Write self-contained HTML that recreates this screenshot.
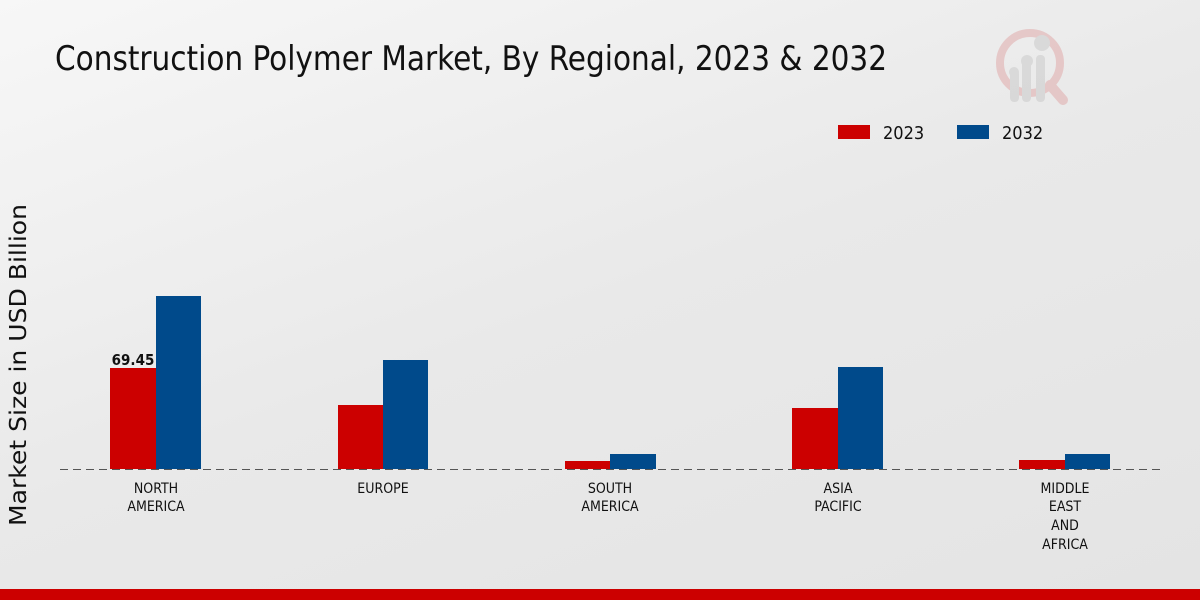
<!DOCTYPE html>
<html><head><meta charset="utf-8"><style>
html,body{margin:0;padding:0;}
body{width:1200px;height:600px;overflow:hidden;background:linear-gradient(160deg,#f7f7f7 0%,#e9e9e9 50%,#e4e4e4 100%);font-family:"DejaVu Sans Condensed","Liberation Sans",sans-serif;}
</style></head><body>
<svg width="1200" height="600" xmlns="http://www.w3.org/2000/svg" style="position:absolute;left:0;top:0">
<text x="55" y="70" font-size="34" fill="#111" textLength="832" lengthAdjust="spacingAndGlyphs">Construction Polymer Market, By Regional, 2023 &amp; 2032</text>
<g opacity="0.5">
<circle cx="1030" cy="63" r="30" fill="none" stroke="#e0a5a5" stroke-width="8"/>
<line x1="1050" y1="85" x2="1063" y2="100" stroke="#e0a5a5" stroke-width="10" stroke-linecap="round"/>
<rect x="1010" y="70" width="9" height="32" rx="4" fill="#c8c8c8"/>
<rect x="1022" y="60" width="9" height="42" rx="4" fill="#c8c8c8"/>
<rect x="1036" y="55" width="9" height="47" rx="4" fill="#c8c8c8"/>
<circle cx="1014" cy="72" r="5" fill="#c8c8c8"/><circle cx="1027" cy="61" r="6" fill="#c8c8c8"/><circle cx="1042" cy="43" r="8" fill="#c8c8c8"/>
</g>
<rect x="838" y="125" width="32" height="14" fill="#cc0000"/>
<text x="883" y="139" font-size="18" fill="#111">2023</text>
<rect x="957" y="125" width="32" height="14" fill="#004a8b"/>
<text x="1002" y="139" font-size="18" fill="#111">2032</text>
<text transform="translate(26,365) rotate(-90)" font-size="23" fill="#111" text-anchor="middle" textLength="322" lengthAdjust="spacingAndGlyphs" font-family="DejaVu Sans, sans-serif">Market Size in USD Billion</text>
<g>
<rect x="110" y="368" width="46" height="101" fill="#cc0000"/>
<rect x="156" y="296" width="45" height="173" fill="#004a8b"/>
<rect x="338" y="405" width="45" height="64" fill="#cc0000"/>
<rect x="383" y="360" width="45" height="109" fill="#004a8b"/>
<rect x="565" y="461" width="45" height="8" fill="#cc0000"/>
<rect x="610" y="454" width="46" height="15" fill="#004a8b"/>
<rect x="792" y="408" width="46" height="61" fill="#cc0000"/>
<rect x="838" y="367" width="45" height="102" fill="#004a8b"/>
<rect x="1019" y="460" width="46" height="9" fill="#cc0000"/>
<rect x="1065" y="454" width="45" height="15" fill="#004a8b"/>
</g>
<line x1="60" y1="469.5" x2="1160" y2="469.5" stroke="#555" stroke-width="1" stroke-dasharray="8,5"/>
<text x="133" y="365" font-size="15" font-weight="bold" fill="#111" text-anchor="middle">69.45</text>
<g font-size="14" fill="#111" text-anchor="middle">
<text x="156" y="493">NORTH</text><text x="156" y="511">AMERICA</text>
<text x="383" y="493">EUROPE</text>
<text x="610" y="493">SOUTH</text><text x="610" y="511">AMERICA</text>
<text x="838" y="493">ASIA</text><text x="838" y="511">PACIFIC</text>
<text x="1065" y="493">MIDDLE</text><text x="1065" y="511">EAST</text><text x="1065" y="530">AND</text><text x="1065" y="549">AFRICA</text>
</g>
<rect x="0" y="589" width="1200" height="11" fill="#cc0000"/>
</svg>
</body></html>
